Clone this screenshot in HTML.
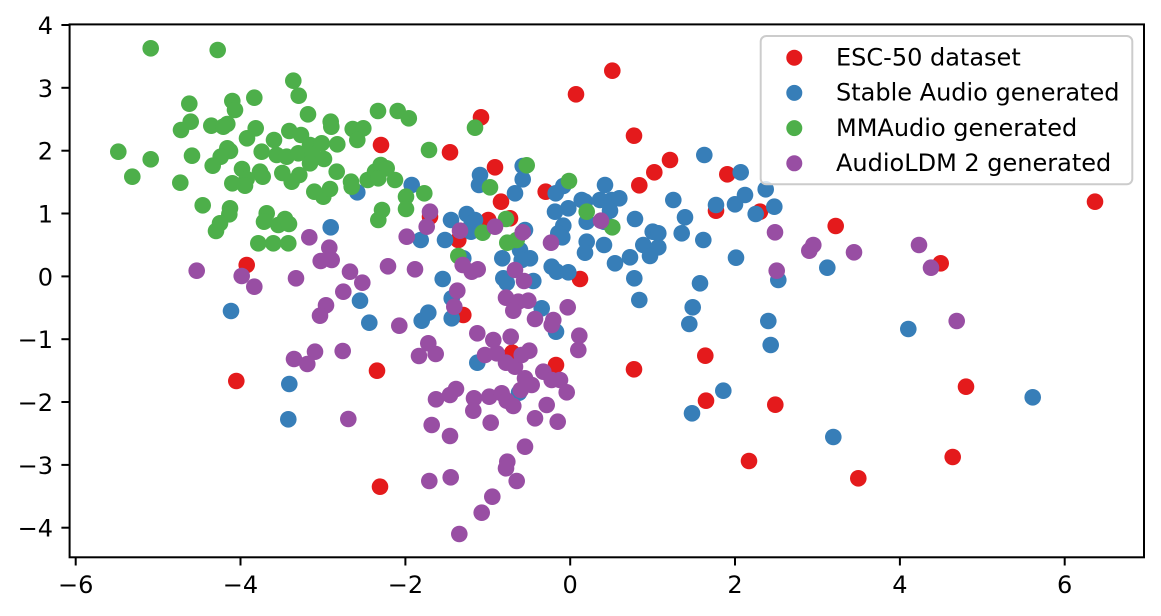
<!DOCTYPE html>
<html>
<head>
<meta charset="utf-8">
<style>
html,body{margin:0;padding:0;background:#fff;}
svg{display:block;}
text{font-family:"DejaVu Sans","Liberation Sans",sans-serif;fill:#000;}
</style>
</head>
<body>
<svg width="1161" height="616" viewBox="0 0 1161 616" xmlns="http://www.w3.org/2000/svg">
<rect x="0" y="0" width="1161" height="616" fill="#fff"/>
<g fill="#e41a1c">
<circle cx="612.3" cy="70.7" r="8.3"/><circle cx="576" cy="94.3" r="8.3"/><circle cx="481" cy="117.3" r="8.3"/><circle cx="634" cy="135.7" r="8.3"/><circle cx="450" cy="152.3" r="8.3"/><circle cx="670" cy="160" r="8.3"/><circle cx="654.3" cy="172.3" r="8.3"/><circle cx="639.3" cy="185.3" r="8.3"/><circle cx="495" cy="167.3" r="8.3"/><circle cx="727.3" cy="174.3" r="8.3"/><circle cx="545.7" cy="191.7" r="8.3"/><circle cx="501" cy="201.7" r="8.3"/><circle cx="716" cy="210.7" r="8.3"/><circle cx="430" cy="216.7" r="8.3"/><circle cx="488.3" cy="220" r="8.3"/><circle cx="510" cy="218.3" r="8.3"/><circle cx="458.3" cy="240" r="8.3"/><circle cx="580" cy="279" r="8.3"/><circle cx="381" cy="145" r="8.3"/><circle cx="246.7" cy="265" r="8.3"/><circle cx="760" cy="211.7" r="8.3"/><circle cx="835.7" cy="226" r="8.3"/><circle cx="940.7" cy="263.3" r="8.3"/><circle cx="1095" cy="201.7" r="8.3"/><circle cx="236.3" cy="381" r="8.3"/><circle cx="377" cy="370.7" r="8.3"/><circle cx="380" cy="486.7" r="8.3"/><circle cx="463.3" cy="315" r="8.3"/><circle cx="512.3" cy="352.7" r="8.3"/><circle cx="556" cy="365" r="8.3"/><circle cx="634" cy="369.3" r="8.3"/><circle cx="705.3" cy="355.7" r="8.3"/><circle cx="706" cy="400.7" r="8.3"/><circle cx="749" cy="461" r="8.3"/><circle cx="775.3" cy="404.7" r="8.3"/><circle cx="966" cy="386.7" r="8.3"/><circle cx="858.3" cy="478.3" r="8.3"/><circle cx="952.7" cy="457" r="8.3"/>
</g>
<g fill="#377eb8">
<circle cx="357.3" cy="192.3" r="8.3"/><circle cx="330.7" cy="227.3" r="8.3"/><circle cx="411.7" cy="185" r="8.3"/><circle cx="480" cy="175" r="8.3"/><circle cx="479" cy="185" r="8.3"/><circle cx="522.7" cy="166" r="8.3"/><circle cx="522.7" cy="179.3" r="8.3"/><circle cx="515" cy="193.3" r="8.3"/><circle cx="555.7" cy="193.3" r="8.3"/><circle cx="563.3" cy="186" r="8.3"/><circle cx="605" cy="185" r="8.3"/><circle cx="568.3" cy="208.3" r="8.3"/><circle cx="555" cy="211.7" r="8.3"/><circle cx="585" cy="201.7" r="8.3"/><circle cx="581.7" cy="200" r="8.3"/><circle cx="600" cy="200" r="8.3"/><circle cx="611.7" cy="200" r="8.3"/><circle cx="619.3" cy="198.3" r="8.3"/><circle cx="610" cy="210.7" r="8.3"/><circle cx="604" cy="221.7" r="8.3"/><circle cx="586.7" cy="221.7" r="8.3"/><circle cx="563.3" cy="225.7" r="8.3"/><circle cx="558.3" cy="233.3" r="8.3"/><circle cx="562.3" cy="237.3" r="8.3"/><circle cx="586.7" cy="241.7" r="8.3"/><circle cx="585" cy="252.7" r="8.3"/><circle cx="604" cy="245" r="8.3"/><circle cx="635" cy="219" r="8.3"/><circle cx="673.3" cy="200" r="8.3"/><circle cx="704.3" cy="155" r="8.3"/><circle cx="716" cy="205" r="8.3"/><circle cx="735" cy="204.3" r="8.3"/><circle cx="740.7" cy="172.3" r="8.3"/><circle cx="685" cy="217.3" r="8.3"/><circle cx="681.7" cy="233.3" r="8.3"/><circle cx="652.7" cy="231.7" r="8.3"/><circle cx="658.3" cy="233.3" r="8.3"/><circle cx="643.3" cy="245" r="8.3"/><circle cx="658.3" cy="247.3" r="8.3"/><circle cx="650" cy="256" r="8.3"/><circle cx="630" cy="257.3" r="8.3"/><circle cx="615" cy="263.3" r="8.3"/><circle cx="703.3" cy="240" r="8.3"/><circle cx="736" cy="257.7" r="8.3"/><circle cx="634.3" cy="278.3" r="8.3"/><circle cx="700" cy="283.3" r="8.3"/><circle cx="639.3" cy="300" r="8.3"/><circle cx="451" cy="220" r="8.3"/><circle cx="466.7" cy="214" r="8.3"/><circle cx="475" cy="220" r="8.3"/><circle cx="471.7" cy="223.3" r="8.3"/><circle cx="471" cy="231.7" r="8.3"/><circle cx="445" cy="240" r="8.3"/><circle cx="420.7" cy="240" r="8.3"/><circle cx="525" cy="230" r="8.3"/><circle cx="520" cy="250" r="8.3"/><circle cx="530" cy="258.3" r="8.3"/><circle cx="521.7" cy="260" r="8.3"/><circle cx="502.3" cy="258.3" r="8.3"/><circle cx="551.7" cy="266.7" r="8.3"/><circle cx="556.7" cy="271.7" r="8.3"/><circle cx="568.3" cy="272.3" r="8.3"/><circle cx="503.3" cy="278.3" r="8.3"/><circle cx="506.7" cy="282.7" r="8.3"/><circle cx="533.3" cy="281" r="8.3"/><circle cx="442.7" cy="279" r="8.3"/><circle cx="451.7" cy="298.3" r="8.3"/><circle cx="463.3" cy="258.3" r="8.3"/><circle cx="745" cy="195" r="8.3"/><circle cx="765.7" cy="189.3" r="8.3"/><circle cx="755.7" cy="214" r="8.3"/><circle cx="774.3" cy="206.7" r="8.3"/><circle cx="827.3" cy="267.7" r="8.3"/><circle cx="778.3" cy="280" r="8.3"/><circle cx="768.3" cy="321" r="8.3"/><circle cx="231" cy="311" r="8.3"/><circle cx="360" cy="300.7" r="8.3"/><circle cx="369.3" cy="322.7" r="8.3"/><circle cx="421.7" cy="320.7" r="8.3"/><circle cx="428.3" cy="312.7" r="8.3"/><circle cx="289.3" cy="384" r="8.3"/><circle cx="288.3" cy="419.3" r="8.3"/><circle cx="451.7" cy="318.3" r="8.3"/><circle cx="541.7" cy="308.3" r="8.3"/><circle cx="556" cy="331.7" r="8.3"/><circle cx="477.3" cy="362.7" r="8.3"/><circle cx="519" cy="392.7" r="8.3"/><circle cx="723.3" cy="390.7" r="8.3"/><circle cx="692" cy="413.3" r="8.3"/><circle cx="692.7" cy="307.3" r="8.3"/><circle cx="689.3" cy="324" r="8.3"/><circle cx="770.7" cy="345" r="8.3"/><circle cx="908.3" cy="329" r="8.3"/><circle cx="833.3" cy="437" r="8.3"/><circle cx="1032.7" cy="397.3" r="8.3"/>
</g>
<g fill="#4daf4a">
<circle cx="150.7" cy="48.3" r="8.3"/><circle cx="217.7" cy="50" r="8.3"/><circle cx="293.3" cy="80.7" r="8.3"/><circle cx="298.7" cy="95.7" r="8.3"/><circle cx="189.3" cy="103.7" r="8.3"/><circle cx="232.3" cy="101" r="8.3"/><circle cx="235" cy="110" r="8.3"/><circle cx="254.3" cy="97.7" r="8.3"/><circle cx="308" cy="114.3" r="8.3"/><circle cx="378" cy="111" r="8.3"/><circle cx="397.7" cy="111" r="8.3"/><circle cx="408.8" cy="118.3" r="8.3"/><circle cx="190.7" cy="121.7" r="8.3"/><circle cx="181" cy="130" r="8.3"/><circle cx="211.3" cy="125.7" r="8.3"/><circle cx="223.3" cy="126.7" r="8.3"/><circle cx="227.3" cy="124" r="8.3"/><circle cx="255.7" cy="128.3" r="8.3"/><circle cx="247" cy="138.3" r="8.3"/><circle cx="289.3" cy="131" r="8.3"/><circle cx="301" cy="135" r="8.3"/><circle cx="330.7" cy="121.7" r="8.3"/><circle cx="331.3" cy="126.7" r="8.3"/><circle cx="352.7" cy="129" r="8.3"/><circle cx="363.3" cy="128.3" r="8.3"/><circle cx="357.3" cy="140" r="8.3"/><circle cx="274" cy="140" r="8.3"/><circle cx="261.7" cy="151.7" r="8.3"/><circle cx="276.7" cy="155" r="8.3"/><circle cx="286.7" cy="156.7" r="8.3"/><circle cx="298.3" cy="153.3" r="8.3"/><circle cx="310" cy="145" r="8.3"/><circle cx="321.7" cy="143.3" r="8.3"/><circle cx="312.7" cy="155" r="8.3"/><circle cx="324" cy="159" r="8.3"/><circle cx="310" cy="163.3" r="8.3"/><circle cx="337.3" cy="144.3" r="8.3"/><circle cx="118.3" cy="151.7" r="8.3"/><circle cx="150.7" cy="159.3" r="8.3"/><circle cx="132.3" cy="176.7" r="8.3"/><circle cx="192" cy="155.7" r="8.3"/><circle cx="227.3" cy="148.3" r="8.3"/><circle cx="230" cy="151" r="8.3"/><circle cx="220.7" cy="156.7" r="8.3"/><circle cx="212.7" cy="165.7" r="8.3"/><circle cx="242" cy="169" r="8.3"/><circle cx="260" cy="171.7" r="8.3"/><circle cx="262.7" cy="176.7" r="8.3"/><circle cx="282.3" cy="173" r="8.3"/><circle cx="299.3" cy="175" r="8.3"/><circle cx="291.7" cy="181.7" r="8.3"/><circle cx="246.7" cy="179" r="8.3"/><circle cx="245" cy="185.7" r="8.3"/><circle cx="232.3" cy="183.3" r="8.3"/><circle cx="180.3" cy="182.7" r="8.3"/><circle cx="336.7" cy="171.7" r="8.3"/><circle cx="351" cy="181.7" r="8.3"/><circle cx="351.7" cy="186.7" r="8.3"/><circle cx="367.7" cy="180" r="8.3"/><circle cx="375" cy="171.7" r="8.3"/><circle cx="380.7" cy="165" r="8.3"/><circle cx="386.7" cy="168.3" r="8.3"/><circle cx="378.3" cy="178.3" r="8.3"/><circle cx="395" cy="180" r="8.3"/><circle cx="314.3" cy="191.7" r="8.3"/><circle cx="323.3" cy="196.7" r="8.3"/><circle cx="330" cy="189" r="8.3"/><circle cx="406" cy="196.7" r="8.3"/><circle cx="406" cy="209" r="8.3"/><circle cx="202.7" cy="205.3" r="8.3"/><circle cx="230" cy="208.3" r="8.3"/><circle cx="229.3" cy="214.3" r="8.3"/><circle cx="220" cy="223.3" r="8.3"/><circle cx="216" cy="231" r="8.3"/><circle cx="266.7" cy="213.3" r="8.3"/><circle cx="264" cy="221.7" r="8.3"/><circle cx="278.3" cy="225" r="8.3"/><circle cx="285" cy="219" r="8.3"/><circle cx="289" cy="224" r="8.3"/><circle cx="382" cy="210" r="8.3"/><circle cx="378.3" cy="220" r="8.3"/><circle cx="258.3" cy="243.3" r="8.3"/><circle cx="273.3" cy="243.3" r="8.3"/><circle cx="288.3" cy="243.3" r="8.3"/><circle cx="475" cy="127.7" r="8.3"/><circle cx="429" cy="150" r="8.3"/><circle cx="526.7" cy="165.3" r="8.3"/><circle cx="490" cy="187.3" r="8.3"/><circle cx="569" cy="181" r="8.3"/><circle cx="424.3" cy="193.3" r="8.3"/><circle cx="586.7" cy="211.7" r="8.3"/><circle cx="612.3" cy="227.3" r="8.3"/><circle cx="506" cy="219" r="8.3"/><circle cx="482.7" cy="232.7" r="8.3"/><circle cx="507.3" cy="242.7" r="8.3"/><circle cx="516.7" cy="240" r="8.3"/><circle cx="458.3" cy="256" r="8.3"/>
</g>
<g fill="#984ea3">
<circle cx="309.3" cy="237.3" r="8.3"/><circle cx="329.3" cy="247.7" r="8.3"/><circle cx="320.7" cy="261" r="8.3"/><circle cx="331.7" cy="260" r="8.3"/><circle cx="196.7" cy="270.7" r="8.3"/><circle cx="241.7" cy="276" r="8.3"/><circle cx="254.3" cy="286.7" r="8.3"/><circle cx="296" cy="278.3" r="8.3"/><circle cx="350" cy="271.7" r="8.3"/><circle cx="362.3" cy="282.7" r="8.3"/><circle cx="343.3" cy="291.7" r="8.3"/><circle cx="388" cy="266.3" r="8.3"/><circle cx="406.7" cy="236.7" r="8.3"/><circle cx="415" cy="269.3" r="8.3"/><circle cx="430" cy="211.7" r="8.3"/><circle cx="426.7" cy="226.7" r="8.3"/><circle cx="460" cy="230.7" r="8.3"/><circle cx="495" cy="226.7" r="8.3"/><circle cx="522.7" cy="232.3" r="8.3"/><circle cx="551" cy="242.7" r="8.3"/><circle cx="601" cy="220.7" r="8.3"/><circle cx="462.7" cy="265" r="8.3"/><circle cx="471.7" cy="271.7" r="8.3"/><circle cx="477.7" cy="269.3" r="8.3"/><circle cx="515" cy="270" r="8.3"/><circle cx="524" cy="281" r="8.3"/><circle cx="457.3" cy="290.7" r="8.3"/><circle cx="775" cy="232.3" r="8.3"/><circle cx="813.3" cy="245" r="8.3"/><circle cx="809.3" cy="250.7" r="8.3"/><circle cx="854" cy="252.3" r="8.3"/><circle cx="919" cy="245" r="8.3"/><circle cx="931" cy="267.7" r="8.3"/><circle cx="776.7" cy="270.7" r="8.3"/><circle cx="326" cy="305.3" r="8.3"/><circle cx="320" cy="315.7" r="8.3"/><circle cx="399.3" cy="325.7" r="8.3"/><circle cx="315" cy="351.7" r="8.3"/><circle cx="294" cy="359" r="8.3"/><circle cx="307.3" cy="364" r="8.3"/><circle cx="342.7" cy="351" r="8.3"/><circle cx="419" cy="356" r="8.3"/><circle cx="348.3" cy="419" r="8.3"/><circle cx="956.7" cy="321" r="8.3"/><circle cx="454.3" cy="306.7" r="8.3"/><circle cx="506" cy="297.7" r="8.3"/><circle cx="518.3" cy="301.7" r="8.3"/><circle cx="528.3" cy="300.7" r="8.3"/><circle cx="513.3" cy="310.7" r="8.3"/><circle cx="567.7" cy="307.3" r="8.3"/><circle cx="535" cy="319" r="8.3"/><circle cx="553.3" cy="320" r="8.3"/><circle cx="551.7" cy="325" r="8.3"/><circle cx="477.3" cy="333.3" r="8.3"/><circle cx="493.3" cy="340" r="8.3"/><circle cx="510.7" cy="336.7" r="8.3"/><circle cx="579.3" cy="335.7" r="8.3"/><circle cx="578.3" cy="350" r="8.3"/><circle cx="428.3" cy="343.3" r="8.3"/><circle cx="435.7" cy="354" r="8.3"/><circle cx="485" cy="355" r="8.3"/><circle cx="496.7" cy="353.3" r="8.3"/><circle cx="506" cy="362.7" r="8.3"/><circle cx="515" cy="366.7" r="8.3"/><circle cx="521.7" cy="355" r="8.3"/><circle cx="529.3" cy="350.7" r="8.3"/><circle cx="543.3" cy="371.7" r="8.3"/><circle cx="525" cy="378.3" r="8.3"/><circle cx="531.7" cy="385" r="8.3"/><circle cx="551.7" cy="380" r="8.3"/><circle cx="560" cy="380" r="8.3"/><circle cx="566.7" cy="392.3" r="8.3"/><circle cx="520.7" cy="390" r="8.3"/><circle cx="456" cy="389" r="8.3"/><circle cx="450" cy="395" r="8.3"/><circle cx="436" cy="399.3" r="8.3"/><circle cx="474" cy="398.3" r="8.3"/><circle cx="489.3" cy="396.7" r="8.3"/><circle cx="501.7" cy="393.3" r="8.3"/><circle cx="506.7" cy="400.7" r="8.3"/><circle cx="513.3" cy="406" r="8.3"/><circle cx="473.3" cy="410.7" r="8.3"/><circle cx="546.7" cy="405" r="8.3"/><circle cx="535" cy="418.3" r="8.3"/><circle cx="557.7" cy="421.7" r="8.3"/><circle cx="490.7" cy="422.7" r="8.3"/><circle cx="431.7" cy="425" r="8.3"/><circle cx="450" cy="436" r="8.3"/><circle cx="525" cy="446.7" r="8.3"/><circle cx="507.3" cy="461.7" r="8.3"/><circle cx="506" cy="468.3" r="8.3"/><circle cx="516.7" cy="481" r="8.3"/><circle cx="429.3" cy="481" r="8.3"/><circle cx="450.7" cy="477.3" r="8.3"/><circle cx="492.3" cy="496.7" r="8.3"/><circle cx="481.7" cy="512.7" r="8.3"/><circle cx="459.3" cy="534" r="8.3"/>
</g>
<!-- spines -->
<rect x="69.6" y="24.4" width="1074.4" height="532.9" fill="none" stroke="#000" stroke-width="2"/>
<!-- x ticks -->
<g stroke="#000" stroke-width="2">
<line x1="75.7" y1="557.3" x2="75.7" y2="565.5"/>
<line x1="240.5" y1="557.3" x2="240.5" y2="565.5"/>
<line x1="405.4" y1="557.3" x2="405.4" y2="565.5"/>
<line x1="570.2" y1="557.3" x2="570.2" y2="565.5"/>
<line x1="735" y1="557.3" x2="735" y2="565.5"/>
<line x1="899.9" y1="557.3" x2="899.9" y2="565.5"/>
<line x1="1064.7" y1="557.3" x2="1064.7" y2="565.5"/>
<line x1="61.4" y1="25" x2="69.6" y2="25"/>
<line x1="61.4" y1="87.8" x2="69.6" y2="87.8"/>
<line x1="61.4" y1="150.7" x2="69.6" y2="150.7"/>
<line x1="61.4" y1="213.5" x2="69.6" y2="213.5"/>
<line x1="61.4" y1="276.4" x2="69.6" y2="276.4"/>
<line x1="61.4" y1="339.2" x2="69.6" y2="339.2"/>
<line x1="61.4" y1="402" x2="69.6" y2="402"/>
<line x1="61.4" y1="464.9" x2="69.6" y2="464.9"/>
<line x1="61.4" y1="527.7" x2="69.6" y2="527.7"/>
</g>
<g font-size="24" text-anchor="middle">
<text x="75.7" y="593">−6</text>
<text x="240.5" y="593">−4</text>
<text x="405.4" y="593">−2</text>
<text x="570.2" y="593">0</text>
<text x="735" y="593">2</text>
<text x="899.9" y="593">4</text>
<text x="1064.7" y="593">6</text>
</g>
<g font-size="24" text-anchor="end">
<text x="53" y="34">4</text>
<text x="53" y="96.8">3</text>
<text x="53" y="159.7">2</text>
<text x="53" y="222.5">1</text>
<text x="53" y="285.4">0</text>
<text x="53" y="348.2">−1</text>
<text x="53" y="411">−2</text>
<text x="53" y="473.9">−3</text>
<text x="53" y="536.7">−4</text>
</g>
<!-- legend -->
<rect x="760.7" y="36" width="371.6" height="148.3" rx="5.5" ry="5.5" fill="#fff" fill-opacity="0.8" stroke="#cccccc" stroke-width="2"/>
<circle cx="794.3" cy="57.7" r="8" fill="#e41a1c"/>
<circle cx="794.3" cy="92.9" r="8" fill="#377eb8"/>
<circle cx="794.3" cy="128.1" r="8" fill="#4daf4a"/>
<circle cx="794.3" cy="163.3" r="8" fill="#984ea3"/>
<g font-size="24">
<text x="836" y="65.5">ESC-50 dataset</text>
<text x="836" y="100.7">Stable Audio generated</text>
<text x="836" y="135.9">MMAudio generated</text>
<text x="836" y="171.1">AudioLDM 2 generated</text>
</g>
</svg>
</body>
</html>
